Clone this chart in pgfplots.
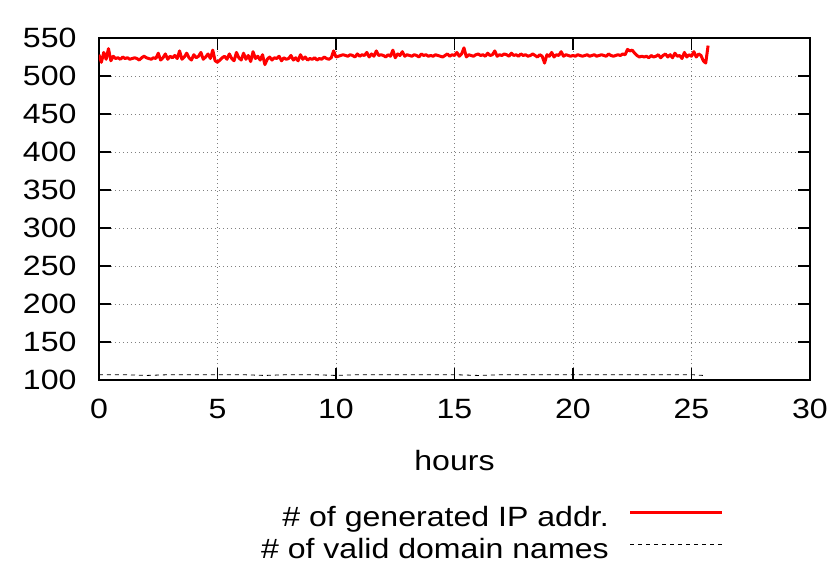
\documentclass[border=0pt]{standalone}
\usepackage{fontspec}
\setmainfont{Liberation Sans}[FakeStretch=1.15]
\usepackage{pgfplots}
\pgfplotsset{compat=1.18}
\usetikzlibrary{calc}
\begin{document}
\fontsize{28}{32}\selectfont
\begin{tikzpicture}
\begin{axis}[
  scale only axis, width=711bp, height=342bp,
  xmin=0, xmax=30, ymin=100, ymax=550,
  xtick={0,5,...,30}, ytick={100,150,...,550},
  grid=major,
  grid style={gray, line width=0.8bp, dash pattern=on 1bp off 3bp},
  tick align=inside, major tick length=12bp,
  tick style={black, line width=1.5bp},
  axis line style={black, line width=2bp},
  /pgf/number format/assume math mode=true,
  tick label style={font=\fontsize{28}{32}\selectfont},
  label style={font=\fontsize{28}{32}\selectfont},
  yticklabel style={xshift=-13bp},
  xticklabel style={yshift=-10bp},
  xlabel={hours},
  xlabel style={yshift=-12bp},
  legend plot pos=right,
  legend cell align=right,
  legend style={draw=none, fill=none, at={(0.879,-0.37)}, anchor=north east,
    inner sep=0pt, row sep=6bp, font=\fontsize{28}{32}\selectfont,
    nodes={inner sep=0pt, text height=20bp, text depth=6bp},
    /tikz/every odd column/.append style={column sep=20bp}},
  legend image code/.code={\draw[#1] (0bp,7bp) -- (92bp,7bp);},
]
\addplot[red, line width=3bp, line join=round] table {
x y
0.0 528
0.1 518
0.2 531
0.3 522
0.4 536
0.5 520
0.6 526
0.7 523
0.8 524
0.9 522
1.0 525
1.1 523
1.2 524
1.3 522
1.4 523
1.5 524
1.6 523
1.7 521
1.8 524
1.9 526
2.0 524
2.1 523
2.2 522
2.3 524
2.4 523
2.5 530
2.6 521
2.7 524
2.8 529
2.9 522
3.0 526
3.1 524
3.2 527
3.3 523
3.4 533
3.5 522
3.6 525
3.7 530
3.8 524
3.9 521
4.0 528
4.1 524
4.2 526
4.3 531
4.4 522
4.5 525
4.6 529
4.7 523
4.8 534
4.9 520
5.0 518
5.1 521
5.2 524
5.3 526
5.4 522
5.5 529
5.6 523
5.7 520
5.8 531
5.9 524
6.0 521
6.1 530
6.2 522
6.3 527
6.4 519
6.5 532
6.6 523
6.7 526
6.8 521
6.9 528
7.0 515
7.1 522
7.2 525
7.3 521
7.4 524
7.5 523
7.6 526
7.7 520
7.8 524
7.9 522
8.0 523
8.1 527
8.2 521
8.3 524
8.4 520
8.5 528
8.6 522
8.7 525
8.8 521
8.9 523
9.0 522
9.1 524
9.2 521
9.3 523
9.4 522
9.5 525
9.6 523
9.7 522
9.8 524
9.9 533
10.0 525
10.1 526
10.2 527
10.3 528
10.4 527
10.5 526
10.6 528
10.7 527
10.8 525
10.9 529
11.0 526
11.1 528
11.2 527
11.3 531
11.4 525
11.5 529
11.6 526
11.7 533
11.8 527
11.9 528
12.0 527
12.1 525
12.2 528
12.3 526
12.4 534
12.5 524
12.6 529
12.7 527
12.8 532
12.9 526
13.0 528
13.1 527
13.2 526
13.3 528
13.4 527
13.5 525
13.6 529
13.7 527
13.8 528
13.9 526
14.0 527
14.1 526
14.2 528
14.3 527
14.4 526
14.5 525
14.6 527
14.7 529
14.8 526
14.9 528
15.0 527
15.1 531
15.2 526
15.3 529
15.4 537
15.5 525
15.6 528
15.7 527
15.8 526
15.9 528
16.0 529
16.1 527
16.2 528
16.3 526
16.4 530
16.5 527
16.6 528
16.7 533
16.8 526
16.9 528
17.0 527
17.1 529
17.2 528
17.3 526
17.4 530
17.5 527
17.6 528
17.7 526
17.8 529
17.9 527
18.0 528
18.1 526
18.2 527
18.3 529
18.4 527
18.5 525
18.6 528
18.7 526
18.8 517
18.9 528
19.0 526
19.1 531
19.2 525
19.3 528
19.4 527
19.5 532
19.6 526
19.7 528
19.8 527
19.9 526
20.0 527
20.1 526
20.2 528
20.3 527
20.4 526
20.5 527
20.6 528
20.7 526
20.8 527
20.9 528
21.0 526
21.1 527
21.2 528
21.3 527
21.4 526
21.5 529
21.6 527
21.7 526
21.8 527
21.9 528
22.0 527
22.1 529
22.2 528
22.3 535
22.4 533
22.5 534
22.6 530
22.7 527
22.8 525
22.9 526
23.0 525
23.1 526
23.2 524
23.3 527
23.4 525
23.5 526
23.6 528
23.7 524
23.8 527
23.9 529
24.0 525
24.1 528
24.2 524
24.3 530
24.4 526
24.5 527
24.6 523
24.7 531
24.8 525
24.9 528
25.0 526
25.1 532
25.2 525
25.3 529
25.4 527
25.5 520
25.6 517
25.7 540
};
\addlegendentry{\# of generated IP addr.}
\addplot[black, line width=0.8bp, dash pattern=on 4bp off 4bp] table {
x y
0 107
1 107
2 106
3 107
4 107
5 107
6 107
7 106
8 107
9 107
10 106
11 107
12 107
13 107
14 107
15 107
16 106
17 107
18 107
19 107
20 107
21 107
22 107
23 107
24 107
25 107
25.5 106
};
\addlegendentry{\# of valid domain names}
\end{axis}
\pgfresetboundingbox
\path ($(current axis.south west)+(-99bp,-201bp)$) rectangle ($(current axis.north east)+(20bp,38bp)$);
\end{tikzpicture}
\end{document}
